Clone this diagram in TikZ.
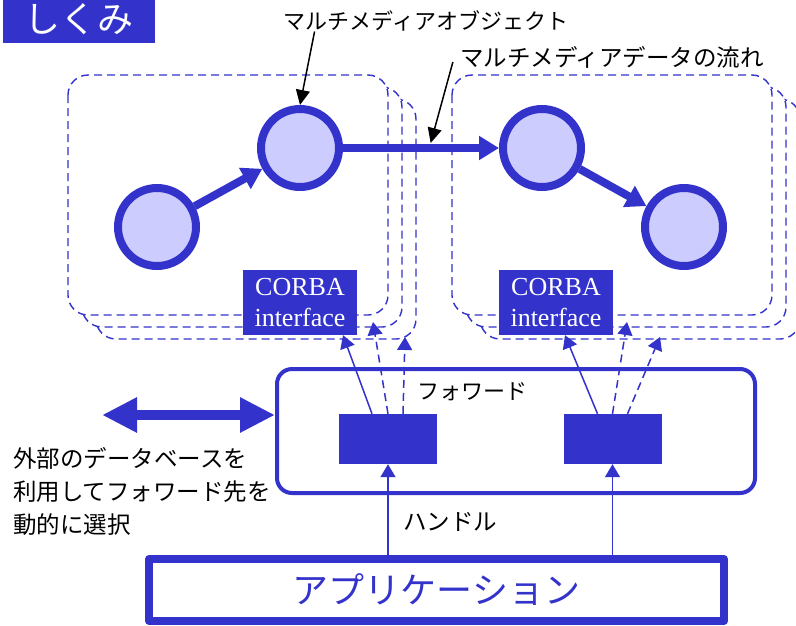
\documentclass[tikz,border=0pt]{standalone}
\usepackage{fontspec}
\setmainfont{Liberation Serif}
\newfontfamily\jp{Noto Sans CJK JP}
\usetikzlibrary{arrows.meta,calc}
\definecolor{mmblue}{HTML}{3333CC}
\definecolor{mmfill}{HTML}{CCCCFF}
\tikzset{
  obj/.style={circle,draw=mmblue,fill=mmfill,line width=8pt,minimum size=78pt,inner sep=0pt},
  flow/.style={draw=mmblue,line width=8pt,-{Triangle[length=20pt,width=23pt]}},
  objframe/.style={draw=mmblue,fill=white,line width=1.4pt,dash pattern=on 8pt off 5pt,rounded corners=20pt},
  corba/.style={fill=mmblue,text=white,font=\fontsize{26}{31}\selectfont,align=center,minimum width=114pt,minimum height=65pt,inner sep=0pt},
  fwdbox/.style={fill=mmblue,minimum width=98pt,minimum height=50pt,inner sep=0pt},
  fwdarrow/.style={draw=mmblue,line width=1.5pt,-{Triangle[length=13pt,width=15pt]}},
  fwddash/.style={fwdarrow,dash pattern=on 8pt off 5pt},
  callout/.style={draw=black,line width=1.5pt,-{Triangle[length=15pt,width=14pt]}},
  dblarrow/.style={draw=mmblue,line width=10pt,{Triangle[length=35pt,width=33pt]}-{Triangle[length=35pt,width=33pt]}},
  jlabel/.style={font=\jp\fontsize{#1}{#1}\selectfont,inner sep=0pt},
}
\begin{document}
\begin{tikzpicture}[x=1pt,y=-1pt,line join=round]
  \useasboundingbox (0,0) rectangle (796,625);
  \node[fill=mmblue,text=white,jlabel=36,minimum width=152pt,minimum height=43pt] (title) at (79,21.5) {\raisebox{7pt}{しくみ}};
  % object groups, back to front
  \foreach \gx in {68,452}
    \foreach \i in {2,1,0}
      \draw[objframe] (\gx+14*\i,75+12*\i) rectangle (\gx+320+14*\i,315+12*\i);
  \node[obj] (o1) at (157,227) {};
  \node[obj] (o2) at (300,148) {};
  \node[obj] (o3) at (542,148) {};
  \node[obj] (o4) at (684,227) {};
  \draw[flow] (o1) -- (o2);
  \draw[flow] (o2) -- (o3);
  \draw[flow] (o3) -- (o4);
  \node[corba] (lc) at (300,302.5) {CORBA\\interface};
  \node[corba] (rc) at (556,302.5) {CORBA\\interface};
  % labels
  \node[jlabel=22] (lobj) at (426,21) {マルチメディアオブジェクト};
  \node[jlabel=23.5] (lflow) at (612,57) {マルチメディアデータの流れ};
  \draw[callout] ([xshift=31pt]lobj.south west) -- (o2.north);
  \draw[callout] ($(lflow.west)+(-7,5)$) -- ($(o2)!0.54!(o3)+(0,-5)$);
  % forwarding
  \node[draw=mmblue,line width=4pt,rounded corners=15pt,minimum width=478pt,minimum height=124pt] (fw) at (516,431) {};
  \node[jlabel=22] (fwlbl) at (472,392) {フォワード};
  \node[fwdbox] (lb) at (388,439) {};
  \node[fwdbox] (rb) at (612.5,439) {};
  \coordinate (lt1) at (373,322); \coordinate (lt2) at (405,337);
  \coordinate (rt1) at (627,322); \coordinate (rt2) at (660,337);
  \draw[fwdarrow] ([xshift=-16pt]lb.north) -- ([xshift=43pt]lc.south);
  \draw[fwddash] (lb.north) -- (lt1);
  \draw[fwddash] ([xshift=15pt]lb.north) -- (lt2);
  \draw[fwdarrow] ([xshift=-15pt]rb.north) -- ([xshift=9pt]rc.south);
  \draw[fwddash] (rb.north) -- (rt1);
  \draw[fwddash] ([xshift=15pt]rb.north) -- (rt2);
  \coordinate (ext) at (102,415);
  \draw[dblarrow] (ext) -- (ext -| fw.west);
  \node[anchor=west,inner sep=0pt,align=left,font=\jp\fontsize{23.5}{33}\selectfont] (dbtext) at (13,491) {外部のデータベースを\\利用してフォワード先を\\動的に選択};
  % application
  \node[draw=mmblue,line width=8pt,minimum width=575pt,minimum height=62pt,text=mmblue,jlabel=36] (app) at (436.5,590) {アプリケーション};
  \node[jlabel=23.5] (hdl) at (450,522) {ハンドル};
  \draw[fwdarrow] (app.north -| lb) -- (lb.south);
  \draw[fwdarrow] (app.north -| rb) -- (rb.south);
\end{tikzpicture}
\end{document}
